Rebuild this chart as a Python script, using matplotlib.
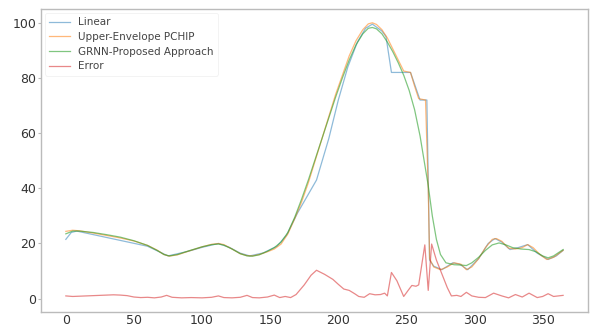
import matplotlib.pyplot as plt

# ---------------------- Data ---------------------- #
linear_x = [0, 4, 8, 60, 75, 90, 100, 112, 120, 128, 135, 145, 155, 162, 170, 184,
            193, 200, 207, 214, 220, 225, 232, 235, 239, 253, 260, 265, 267, 270,
            276, 284, 289, 295, 303, 310, 315, 320, 326, 332, 339, 346, 354, 360, 365]
linear_y = [21.5, 24, 24.5, 19, 15.5, 17.2, 18.6, 20, 18.6, 16.5, 15.5, 16.6, 19, 23, 31, 43,
            58, 72, 84, 93, 98, 99.5, 97, 95, 82, 82, 72, 72, 14, 11.8,
            10.5, 13, 12.5, 10.5, 14.5, 20, 21.8, 20.5, 17.8, 18.5, 19.6, 16.5, 14.2, 15.5, 17.5]

pchip_x = [0, 5, 10, 20, 30, 40, 50, 60, 67, 72, 76, 82, 90, 100, 107, 112, 116, 122, 128,
           133, 137, 142, 148, 153, 158, 163, 168, 173, 178, 183, 188, 193, 198, 203, 208,
           213, 218, 222, 225, 228, 232, 236, 240, 244, 248, 253, 256, 259, 264, 266, 267,
           270, 275, 280, 285, 290, 294, 298, 303, 308, 313, 316, 320, 325, 330, 335, 339,
           343, 348, 353, 358, 365]
pchip_y = [24.4, 24.8, 24.6, 23.8, 22.9, 22.0, 20.9, 19.3, 17.6, 16.0, 15.4, 15.9, 17.2, 18.8,
           19.7, 20.0, 19.6, 18.0, 16.3, 15.6, 15.5, 16.0, 17.0, 18.0, 19.8, 23.5, 29, 35, 42,
           50, 58, 66, 74, 81, 88, 93.5, 97.5, 99.6, 100, 99.4, 97.5, 94.5, 90.5, 86.5, 82.5,
           82, 77, 72.5, 72, 40, 14.5, 11.5, 10.5, 11.5, 13, 12.5, 10.5, 11.5, 14.5, 18.5,
           21.5, 21.8, 20.8, 18.3, 18, 18.5, 19.6, 18.5, 16, 14.2, 15, 17.5]

grnn_x = [0, 5, 10, 20, 30, 40, 50, 60, 67, 72, 76, 82, 90, 100, 107, 112, 116, 122, 128,
          133, 137, 142, 148, 153, 158, 163, 168, 173, 178, 183, 188, 193, 198, 203, 208,
          213, 218, 222, 225, 228, 232, 236, 240, 244, 248, 252, 256, 260, 263, 266, 269,
          272, 275, 279, 285, 290, 294, 298, 303, 308, 313, 318, 323, 328, 334, 340, 345,
          350, 354, 358, 365]
grnn_y = [23.5, 24.5, 24.5, 24.0, 23.2, 22.3, 21.0, 19.3, 17.5, 16.0, 15.5, 16.0, 17.3, 18.8,
          19.6, 19.8, 19.4, 18.0, 16.3, 15.5, 15.4, 15.9, 17.2, 18.5, 20.5, 24, 29.5, 36, 43,
          50.5, 58, 65.5, 73, 80, 86.5, 92, 96, 98, 98.3, 97.8, 96, 93, 89.5, 85.5, 81, 75.5,
          68.5, 59, 50, 41, 30, 21.5, 16, 13, 12.3, 12.2, 12.0, 13, 15, 17.5, 19.5, 20.2,
          19.5, 18.5, 18, 17.8, 17, 15.5, 14.8, 15.5, 17.8]

error_x = [0, 5, 10, 15, 20, 25, 30, 35, 40, 45, 50, 55, 60, 65, 70, 74, 78, 85, 92, 100,
           107, 112, 116, 122, 128, 133, 137, 142, 148, 153, 157, 161, 165, 169, 175, 180,
           184, 190, 196, 200, 204, 208, 212, 215, 219, 223, 227, 231, 234, 236, 239, 243,
           248, 252, 254, 257, 259, 263.5, 266, 268.5, 272, 276, 280, 283, 287, 290, 294,
           298, 303, 308, 314, 320, 325, 330, 335, 340, 346, 350, 354, 358, 365]
error_y = [1.0, 0.8, 0.9, 1.0, 1.1, 1.2, 1.3, 1.4, 1.3, 1.1, 0.6, 0.4, 0.5, 0.3, 0.6, 1.2,
           0.5, 0.3, 0.4, 0.3, 0.5, 1.0, 0.4, 0.3, 0.5, 1.2, 0.4, 0.3, 0.6, 1.3, 0.4, 0.8,
           0.4, 1.5, 5, 8.5, 10.3, 8.8, 7, 5.2, 3.5, 3, 1.8, 0.8, 0.5, 1.8, 1.4, 1.5, 2.0,
           1.0, 9.5, 6.5, 0.8, 3.5, 4.8, 4.5, 5.0, 19.5, 3, 19.8, 14, 9, 4, 1.0, 1.2, 0.8,
           2.3, 1.0, 0.5, 0.4, 2.0, 1.0, 0.3, 1.5, 0.6, 2.0, 0.4, 0.8, 1.8, 0.8, 1.2]

# ---------------------- Plot ---------------------- #
fig = plt.figure(figsize=(5.93, 3.28), dpi=100)
ax = fig.add_axes([0.0691, 0.0500, 0.9224, 0.9225])

lw = 0.9
ax.plot(linear_x, linear_y, color='tab:blue', lw=lw, alpha=0.5, label='Linear')
ax.plot(pchip_x, pchip_y, color='tab:orange', lw=lw, alpha=0.55, label='Upper-Envelope PCHIP')
ax.plot(grnn_x, grnn_y, color='tab:green', lw=lw, alpha=0.6, label='GRNN-Proposed Approach')
ax.plot(error_x, error_y, color='tab:red', lw=lw, alpha=0.55, label='Error')

ax.set_xticks([0, 50, 100, 150, 200, 250, 300, 350])
ax.set_yticks([0, 20, 40, 60, 80, 100])

for s in ax.spines.values():
    s.set_color('#bbbbbb')
    s.set_linewidth(1.0)
ax.tick_params(axis='y', length=2, width=0.8, color='#bbbbbb', pad=1.5,
               labelsize=9, labelcolor='#333333')
ax.tick_params(axis='x', length=0, pad=2, labelsize=9, labelcolor='#333333')

leg = ax.legend(loc='upper left', fontsize=7.5, frameon=True, borderaxespad=0.4,
                handlelength=2.0, handletextpad=0.8, labelspacing=0.45)
leg.get_frame().set_edgecolor('#eeeeee')
leg.get_frame().set_linewidth(0.6)
for t in leg.get_texts():
    t.set_color('#444444')

fig.savefig('out.png', dpi=100)
